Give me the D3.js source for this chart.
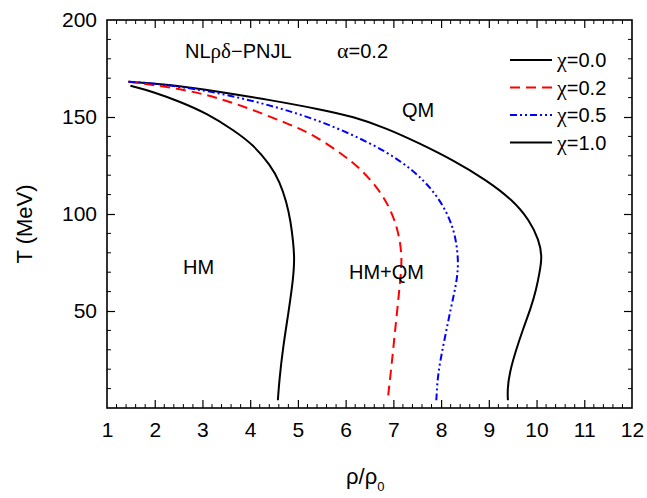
<!DOCTYPE html>
<html>
<head>
<meta charset="utf-8">
<script src="https://cdn.jsdelivr.net/npm/d3@7"></script>
<style>
  body { margin: 0; background: #fff; }
  svg { font-family: Arial, "Liberation Sans", sans-serif; }
</style>
</head>
<body>
<div id="chart"></div>
<script>
// Phase boundaries T vs rho/rho0, one pair of arrays per isospin asymmetry chi
const rho00 = [1.45, 2.32, 3.37, 4.41, 5.46, 6.16, 6.86, 7.55, 8.25, 8.95, 9.50, 9.85, 10.05, 10.12, 10.06, 9.99, 9.89, 9.71, 9.57, 9.43, 9.39, 9.40];
const T00   = [168.2, 166.8, 163.0, 158.8, 154.0, 150.2, 144.2, 136.4, 127.8, 117.5, 107.2, 96.9, 86.6, 78.0, 69.4, 60.8, 52.2, 40.2, 29.9, 17.9, 9.3, 4.0];

const rho02 = [1.45, 1.97, 2.67, 3.37, 4.07, 4.76, 5.32, 5.95, 6.30, 6.65, 6.92, 7.10, 7.19, 7.14, 7.03, 6.96, 6.88];
const T02   = [168.2, 166.5, 163.9, 159.6, 153.6, 146.8, 141.1, 130.4, 123.6, 114.1, 103.8, 91.8, 78.0, 64.3, 38.5, 21.3, 4.0];

const rho05 = [1.45, 1.97, 2.67, 3.37, 4.07, 4.76, 5.46, 6.16, 6.86, 7.41, 7.83, 8.14, 8.31, 8.37, 8.32, 8.21, 8.07, 7.93, 7.90];
const T05   = [168.2, 167.4, 165.1, 162.2, 158.2, 153.6, 147.9, 140.7, 132.1, 122.7, 112.4, 100.4, 88.3, 74.6, 64.0, 52.2, 35.1, 17.9, 4.0];

const rho10 = [1.49, 1.97, 2.53, 3.09, 3.65, 4.07, 4.42, 4.62, 4.76, 4.85, 4.90, 4.93, 4.90, 4.80, 4.69, 4.61, 4.58];
const T10   = [166.1, 163.0, 157.9, 151.9, 143.3, 135.6, 125.3, 116.6, 106.3, 96.0, 85.7, 77.0, 66.0, 48.8, 31.6, 14.4, 4.0];

const chiLabels = ['0.0', '0.2', '0.5', '1.0'];
const xTicks = [1, 2, 3, 4, 5, 6, 7, 8, 9, 10, 11, 12];
const yTicks = [50, 100, 150, 200];

const width = 647, height = 498;
const plot = {left: 107, right: 632, top: 20, bottom: 408};

const svg = d3.select('#chart').append('svg')
  .attr('width', width).attr('height', height);

const x = d3.scaleLinear().domain([1, 12]).range([plot.left, plot.right]);
const y = d3.scaleLinear().domain([0, 200]).range([plot.bottom, plot.top]);

// series styling
const series = [
  {rho: rho00, T: T00, color: '#000', dash: null},
  {rho: rho02, T: T02, color: '#ff0000', dash: '10,6'},
  {rho: rho05, T: T05, color: '#0000ff', dash: '7,3,2,3,2,3'},
  {rho: rho10, T: T10, color: '#000', dash: null}
];

const line = d3.line()
  .x(d => x(d[0]))
  .y(d => y(d[1]))
  .curve(d3.curveBasis);

series.forEach(s => {
  svg.append('path')
    .attr('d', line(s.rho.map((r, i) => [r, s.T[i]])))
    .attr('fill', 'none')
    .attr('stroke', s.color)
    .attr('stroke-width', 2)
    .attr('stroke-dasharray', s.dash);
});

// axes: ticks pointing inward on all four sides
const xMinor = d3.range(1, 12.001, 0.2).filter(v => Math.abs(v - Math.round(v)) > 1e-6);
const yMinor = d3.range(10, 200, 10).filter(v => v % 50 !== 0);

function drawX(g, dir) {
  g.call(d3.axisBottom(x).tickValues(xTicks).tickSize(-8 * dir).tickFormat(dir > 0 ? d3.format('d') : ''));
  g.selectAll('.tick').filter(d => d === 1 || d === 12).select('line').remove();
  g.call(gg => gg.select('.domain').remove());
}

const xb = svg.append('g').attr('transform', `translate(0,${plot.bottom})`);
drawX(xb, 1);
xb.selectAll('text').attr('y', 14).style('font-size', '21px').style('font-family', 'Arial, "Liberation Sans", sans-serif');
xb.append('g').selectAll('line').data(xMinor).enter().append('line')
  .attr('x1', d => x(d)).attr('x2', d => x(d)).attr('y1', 0).attr('y2', -4)
  .attr('stroke', '#000');

const xt = svg.append('g').attr('transform', `translate(0,${plot.top})`);
drawX(xt, -1);
xt.selectAll('text').remove();
xt.append('g').selectAll('line').data(xMinor).enter().append('line')
  .attr('x1', d => x(d)).attr('x2', d => x(d)).attr('y1', 0).attr('y2', 4)
  .attr('stroke', '#000');

const yl = svg.append('g').attr('transform', `translate(${plot.left},0)`);
yl.call(d3.axisLeft(y).tickValues(yTicks).tickSize(-8).tickPadding(10));
yl.select('.domain').remove();
yl.selectAll('.tick').filter(d => d === 200).select('line').remove();
yl.selectAll('text').attr('x', -10).style('font-size', '21px').style('font-family', 'Arial, "Liberation Sans", sans-serif');
yl.append('g').selectAll('line').data(yMinor).enter().append('line')
  .attr('y1', d => y(d)).attr('y2', d => y(d)).attr('x1', 0).attr('x2', 4)
  .attr('stroke', '#000');

const yr = svg.append('g').attr('transform', `translate(${plot.right},0)`);
yr.call(d3.axisRight(y).tickValues(yTicks).tickSize(-8).tickFormat(''));
yr.select('.domain').remove();
yr.selectAll('.tick').filter(d => d === 200).select('line').remove();
yr.append('g').selectAll('line').data(yMinor).enter().append('line')
  .attr('y1', d => y(d)).attr('y2', d => y(d)).attr('x1', 0).attr('x2', -4)
  .attr('stroke', '#000');

svg.selectAll('.tick line').attr('stroke', '#000').attr('stroke-width', 1.2);

// frame
svg.append('rect')
  .attr('x', plot.left).attr('y', plot.top)
  .attr('width', plot.right - plot.left).attr('height', plot.bottom - plot.top)
  .attr('fill', 'none').attr('stroke', '#000').attr('stroke-width', 1.6);

// axis titles
svg.append('text')
  .attr('transform', 'translate(32,224) rotate(-90)')
  .attr('text-anchor', 'middle')
  .style('font-size', '22px')
  .text('T (MeV)');

const xTitle = svg.append('text')
  .attr('x', 346).attr('y', 484)
  .style('font-size', '22px');
xTitle.append('tspan').text('ρ/ρ');
xTitle.append('tspan').attr('dy', 7).style('font-size', '13px').text('0');

// annotations
const serif = '"Liberation Serif", "Times New Roman", serif';
const title = svg.append('text').attr('x', 185).attr('y', 58).style('font-size', '20px');
title.append('tspan').text('NL');
title.append('tspan').style('font-family', serif).style('font-size', '21px').text('ρδ');
title.append('tspan').text('−PNJL');

const alpha = svg.append('text').attr('x', 337).attr('y', 58).style('font-size', '20px');
alpha.append('tspan').style('font-family', serif).style('font-size', '22px').text('α');
alpha.append('tspan').text('=0.2');

svg.append('text').attr('x', 402).attr('y', 117).style('font-size', '20px').text('QM');
svg.append('text').attr('x', 183).attr('y', 274).style('font-size', '20px').text('HM');
svg.append('text').attr('x', 349).attr('y', 279).style('font-size', '20px').text('HM+QM');

// legend
const legend = svg.selectAll('.legend')
  .data(series)
  .enter().append('g')
  .attr('class', 'legend')
  .attr('transform', (d, i) => `translate(510,${60 + i * 27.5})`);

legend.append('line')
  .attr('x1', 0).attr('x2', 42).attr('y1', 0).attr('y2', 0)
  .attr('stroke', d => d.color)
  .attr('stroke-width', 2)
  .attr('stroke-dasharray', d => d.dash);

const lt = legend.append('text').attr('x', 47).attr('y', 7).style('font-size', '20px');
lt.append('tspan').style('font-family', serif).style('font-size', '22px').text('χ');
lt.append('tspan').text((d, i) => '=' + chiLabels[i]);
</script>
</body>
</html>
